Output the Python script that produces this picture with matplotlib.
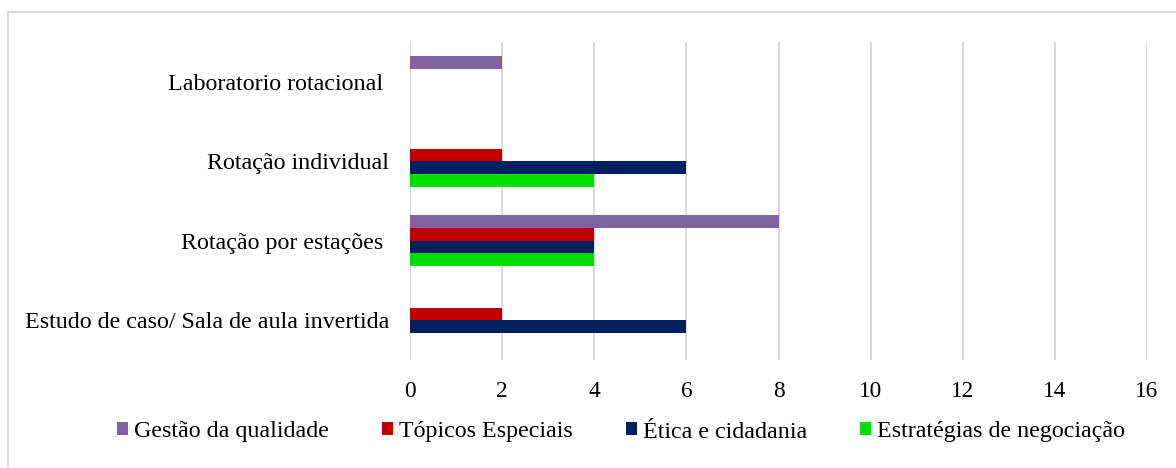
import matplotlib.pyplot as plt
from matplotlib.patches import Rectangle
import numpy as np

# Data
categories = ['Estudo de caso/ Sala de aula invertida', 'Rotação por estações ',
              'Rotação individual', 'Laboratorio rotacional ']
series_names = ['Gestão da qualidade', 'Tópicos Especiais', 'Ética e cidadania',
                'Estratégias de negociação']
gestao = [0, 8, 0, 2]
topicos = [2, 4, 2, 0]
etica = [6, 4, 6, 0]
estrategias = [0, 4, 4, 0]
x_ticks = [0, 2, 4, 6, 8, 10, 12, 14, 16]

colors = ['#8064a2', '#c00000', '#002060', '#00dd00']
values = [gestao, topicos, etica, estrategias]

plt.rcParams['font.family'] = ['Liberation Serif', 'DejaVu Serif']

W, H = 1176, 468
fig = plt.figure(figsize=(W / 100, H / 100), dpi=100)

# outer chart border (only left and top edges fall inside the image)
fig.patches.append(Rectangle((8 / W, -0.2), 1.2, 1.2 - 12 / H, transform=fig.transFigure,
                             fill=False, edgecolor='#d9d9d9', linewidth=1.5))

ax = fig.add_axes([410 / W, 1 - 360 / H, (1147 - 410) / W, (360 - 42) / H])

bar_h = 0.16
y = np.arange(len(categories))
for i, (name, vals, c) in enumerate(zip(series_names, values, colors)):
    offset = (1.5 - i) * bar_h
    ax.barh(y + offset, vals, height=bar_h, color=c, label=name, zorder=3)

ax.set_xlim(0, 16)
ax.set_ylim(-0.5, len(categories) - 0.5)
ax.set_xticks(x_ticks)
ax.set_yticks(y)
ax.set_yticklabels(categories, fontsize=17.3)
ax.tick_params(axis='x', labelsize=16.8, length=0, pad=15)
ax.tick_params(axis='y', length=0, pad=15)
ax.grid(axis='x', color='#d9d9d9', linewidth=1.5, zorder=0)
for s in ax.spines.values():
    s.set_visible(False)

leg = fig.legend(loc='center', bbox_to_anchor=(0.528, 1 - 432 / H), ncol=4,
                 frameon=False, fontsize=17.3, handlelength=0.46, handleheight=0.46,
                 handletextpad=0.25, columnspacing=2.2)

fig.savefig('out.png', dpi=100)
